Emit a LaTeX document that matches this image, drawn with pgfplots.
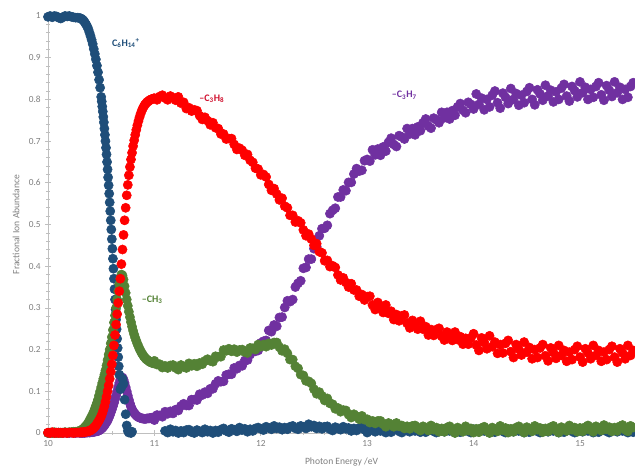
\documentclass[border=0pt]{standalone}
\usepackage{fontspec}
\setmainfont{Carlito}
\usepackage{pgfplots}
\usepackage{pgfplotstable}
\pgfplotsset{compat=1.18}
\definecolor{cblue}{HTML}{1F4E79}
\definecolor{cred}{HTML}{FF0000}
\definecolor{cgreen}{HTML}{548235}
\definecolor{cpurple}{HTML}{7030A0}
\definecolor{axgray}{HTML}{BFBFBF}
\definecolor{txtgray}{HTML}{7F7F7F}
\definecolor{lred}{HTML}{D0102E}
\pgfplotstableread{
x b g r p
10.00 0.998 0.000 0.001 0.000
10.02 1.000 0.001 0.000 0.000
10.04 0.997 0.000 0.002 0.001
10.06 1.000 0.002 0.000 0.000
10.08 0.999 0.000 0.001 0.000
10.10 0.996 0.001 0.000 0.001
10.12 0.994 0.000 0.001 0.000
10.14 0.997 0.001 0.000 0.000
10.16 1.000 0.002 0.001 0.001
10.18 0.999 0.001 0.000 0.000
10.20 1.000 0.002 0.001 0.000
10.22 0.998 0.002 0.001 0.001
10.24 0.997 0.003 0.000 0.000
10.26 0.996 0.003 0.001 0.000
10.28 0.996 0.004 0.001 0.001
10.30 0.995 0.005 0.001 0.000
10.31 0.994 0.006 0.002 0.001
10.32 0.992 0.008 0.001 0.000
10.33 0.990 0.010 0.002 0.001
10.34 0.987 0.012 0.002 0.000
10.35 0.983 0.015 0.003 0.001
10.36 0.979 0.018 0.003 0.001
10.37 0.974 0.021 0.004 0.001
10.38 0.968 0.025 0.004 0.002
10.39 0.960 0.030 0.005 0.001
10.40 0.952 0.035 0.006 0.002
10.41 0.943 0.040 0.008 0.002
10.42 0.933 0.045 0.010 0.002
10.43 0.921 0.051 0.012 0.003
10.44 0.909 0.058 0.015 0.003
10.45 0.896 0.065 0.018 0.004
10.46 0.881 0.072 0.022 0.004
10.47 0.865 0.080 0.026 0.005
10.48 0.847 0.090 0.030 0.006
10.49 0.828 0.100 0.035 0.008
10.50 0.806 0.110 0.040 0.010
10.51 0.783 0.120 0.047 0.012
10.52 0.758 0.130 0.055 0.015
10.53 0.730 0.140 0.064 0.018
10.54 0.700 0.150 0.075 0.022
10.55 0.668 0.162 0.087 0.026
10.56 0.632 0.175 0.100 0.030
10.57 0.594 0.188 0.114 0.036
10.58 0.553 0.200 0.130 0.042
10.59 0.510 0.215 0.147 0.049
10.60 0.465 0.230 0.165 0.056
10.61 0.418 0.247 0.186 0.064
10.62 0.370 0.265 0.210 0.072
10.63 0.320 0.282 0.235 0.081
10.64 0.272 0.300 0.260 0.090
10.65 0.226 0.320 0.285 0.100
10.66 0.182 0.340 0.312 0.110
10.67 0.140 0.357 0.340 0.120
10.68 0.105 0.370 0.370 0.128
10.69 0.110 0.380 0.405 0.132
10.70 0.130 0.378 0.440 0.133
10.71 0.118 0.368 0.475 0.128
10.72 0.080 0.352 0.510 0.120
10.73 0.045 0.336 0.540 0.110
10.74 0.018 0.320 0.570 0.100
10.75 0.005 0.305 0.595 0.090
10.76 0.001 0.291 0.618 0.080
10.77 0.004 0.278 0.638 0.071
10.78 0.000 0.266 0.656 0.063
10.79 0.003 0.255 0.672 0.057
10.80 nan 0.245 0.688 0.052
10.81 nan 0.236 0.702 0.048
10.82 nan 0.228 0.715 0.045
10.83 nan 0.221 0.727 0.042
10.84 nan 0.214 0.738 0.040
10.85 nan 0.208 0.748 0.038
10.86 nan 0.202 0.757 0.037
10.87 nan 0.197 0.765 0.036
10.88 nan 0.192 0.772 0.035
10.89 nan 0.188 0.778 0.035
10.90 nan 0.184 0.783 0.034
10.91 nan 0.181 0.787 0.034
10.92 nan 0.178 0.790 0.034
10.93 nan 0.176 0.793 0.035
10.94 nan 0.174 0.795 0.035
10.95 nan 0.172 0.797 0.035
10.96 nan 0.170 0.799 0.036
10.97 nan 0.169 0.800 0.036
10.98 nan 0.168 0.801 0.037
10.99 nan 0.167 0.802 0.037
10.505 0.795 nan nan nan
10.515 0.771 nan nan nan
10.525 0.745 nan nan nan
10.535 0.715 nan nan nan
10.545 0.684 nan nan nan
10.555 0.650 nan nan nan
10.565 0.613 nan nan nan
10.575 0.574 nan nan nan
10.585 0.532 nan nan nan
10.595 0.488 nan nan nan
10.605 0.442 nan nan nan
10.615 0.394 nan nan nan
10.625 0.345 nan nan nan
10.635 0.296 nan nan nan
10.645 0.249 nan nan nan
10.655 0.204 nan nan nan
10.665 0.160 nan nan nan
11.000 nan 0.173 0.803 0.031
11.025 nan 0.164 0.799 0.043
11.050 nan 0.165 0.807 0.042
11.075 nan 0.157 0.810 0.039
11.100 0.005 0.161 0.803 0.051
11.125 0.001 0.156 0.799 0.046
11.150 0.009 0.162 0.808 0.052
11.175 0.003 0.163 0.804 0.047
11.200 0.006 0.156 0.798 0.056
11.225 0.000 0.152 0.806 0.054
11.250 0.005 0.163 0.791 0.065
11.275 0.001 0.159 0.793 0.070
11.300 0.007 0.156 0.778 0.066
11.325 0.008 0.167 0.780 0.066
11.350 0.002 0.161 0.772 0.080
11.375 0.000 0.166 0.775 0.080
11.400 0.007 0.160 0.773 0.079
11.425 0.004 0.168 0.761 0.093
11.450 0.001 0.165 0.752 0.091
11.475 0.009 0.173 0.757 0.098
11.500 0.003 0.177 0.749 0.095
11.525 0.006 0.173 0.739 0.106
11.550 0.000 0.171 0.744 0.106
11.575 0.006 0.184 0.732 0.118
11.600 0.002 0.183 0.730 0.125
11.625 0.008 0.183 0.717 0.123
11.650 0.011 0.199 0.717 0.124
11.675 0.005 0.197 0.705 0.139
11.700 0.002 0.202 0.706 0.141
11.725 0.010 0.196 0.706 0.141
11.750 0.008 0.201 0.692 0.156
11.775 0.004 0.194 0.680 0.154
11.800 0.013 0.199 0.683 0.162
11.825 0.007 0.200 0.678 0.161
11.850 0.010 0.194 0.666 0.174
11.875 0.003 0.192 0.668 0.175
11.900 0.009 0.204 0.654 0.188
11.925 0.005 0.203 0.649 0.196
11.950 0.011 0.200 0.635 0.196
11.975 0.013 0.212 0.633 0.198
12.000 0.010 0.207 0.619 0.216
12.025 0.007 0.212 0.620 0.220
12.050 0.015 0.207 0.614 0.222
12.075 0.012 0.215 0.596 0.246
12.100 0.009 0.211 0.582 0.243
12.125 0.017 0.217 0.586 0.259
12.150 0.011 0.217 0.573 0.256
12.175 0.014 0.206 0.559 0.277
12.200 0.008 0.197 0.563 0.278
12.225 0.013 0.201 0.544 0.301
12.250 0.009 0.191 0.540 0.317
12.275 0.015 0.176 0.522 0.315
12.300 0.017 0.176 0.522 0.320
12.325 0.011 0.160 0.506 0.350
12.350 0.009 0.155 0.509 0.359
12.375 0.017 0.140 0.504 0.365
12.400 0.015 0.138 0.487 0.395
12.425 0.011 0.125 0.473 0.397
12.450 0.021 0.124 0.477 0.417
12.475 0.015 0.119 0.465 0.417
12.500 0.018 0.105 0.450 0.442
12.525 0.011 0.094 0.454 0.447
12.550 0.016 0.098 0.435 0.473
12.575 0.010 0.089 0.432 0.490
12.600 0.015 0.078 0.413 0.491
12.625 0.016 0.083 0.414 0.498
12.650 0.009 0.071 0.399 0.526
12.675 0.006 0.069 0.401 0.534
12.700 0.014 0.058 0.397 0.539
12.725 0.011 0.060 0.379 0.566
12.750 0.008 0.051 0.367 0.566
12.775 0.015 0.055 0.372 0.583
12.800 0.010 0.054 0.361 0.581
12.825 0.012 0.044 0.350 0.601
12.850 0.005 0.037 0.358 0.601
12.875 0.011 0.045 0.343 0.621
12.900 0.006 0.040 0.343 0.634
12.925 0.012 0.033 0.328 0.628
12.950 0.014 0.041 0.332 0.630
12.975 0.008 0.032 0.319 0.653
13.000 0.001 0.033 0.327 0.656
13.025 0.009 0.025 0.328 0.652
13.050 0.007 0.029 0.307 0.679
13.075 0.003 0.023 0.296 0.667
13.100 0.011 0.029 0.313 0.681
13.125 0.005 0.029 0.302 0.666
13.150 0.008 0.021 0.289 0.686
13.175 0.001 0.015 0.307 0.676
13.200 0.007 0.024 0.287 0.697
13.225 0.002 0.020 0.292 0.707
13.250 0.008 0.015 0.272 0.692
13.275 0.010 0.024 0.284 0.687
13.300 0.004 0.016 0.269 0.713
13.325 0.001 0.018 0.281 0.710
13.350 0.009 0.011 0.283 0.705
13.375 0.006 0.016 0.263 0.730
13.400 0.003 0.010 0.252 0.717
13.425 0.011 0.017 0.270 0.730
13.450 0.005 0.018 0.261 0.715
13.475 0.008 0.010 0.249 0.734
13.500 0.002 0.006 0.268 0.725
13.525 0.007 0.016 0.249 0.744
13.550 0.002 0.012 0.255 0.753
13.575 0.008 0.006 0.235 0.736
13.600 0.010 0.018 0.248 0.731
13.625 0.004 0.008 0.234 0.755
13.650 0.001 0.013 0.248 0.751
13.675 0.009 0.003 0.251 0.744
13.700 0.006 0.011 0.232 0.769
13.725 0.003 0.003 0.223 0.756
13.750 0.011 0.013 0.242 0.769
13.775 0.005 0.016 0.233 0.753
13.800 0.008 0.005 0.222 0.773
13.825 0.001 0.000 0.242 0.762
13.850 0.007 0.013 0.224 0.782
13.875 0.002 0.009 0.231 0.790
13.900 0.008 0.003 0.213 0.774
13.925 0.010 0.016 0.227 0.768
13.950 0.004 0.006 0.213 0.793
13.975 0.001 0.011 0.228 0.788
14.000 0.009 0.001 0.238 0.777
14.025 0.007 0.010 0.211 0.813
14.050 0.003 0.002 0.198 0.788
14.075 0.011 0.012 0.228 0.803
14.100 0.005 0.015 0.217 0.775
14.125 0.008 0.005 0.202 0.800
14.150 0.001 0.000 0.233 0.782
14.175 0.007 0.013 0.207 0.810
14.200 0.002 0.009 0.218 0.820
14.225 0.008 0.004 0.191 0.792
14.250 0.010 0.017 0.212 0.779
14.275 0.004 0.007 0.192 0.815
14.300 0.001 0.012 0.215 0.805
14.325 0.009 0.001 0.222 0.790
14.350 0.007 0.010 0.195 0.826
14.375 0.003 0.003 0.181 0.800
14.400 0.011 0.013 0.212 0.814
14.425 0.005 0.016 0.201 0.786
14.450 0.008 0.006 0.187 0.810
14.475 0.001 0.001 0.218 0.792
14.500 0.007 0.014 0.194 0.819
14.525 0.002 0.010 0.205 0.828
14.550 0.008 0.004 0.178 0.800
14.575 0.010 0.017 0.200 0.787
14.600 0.004 0.008 0.181 0.823
14.625 0.001 0.012 0.204 0.813
14.650 0.009 0.002 0.212 0.798
14.675 0.007 0.011 0.185 0.834
14.700 0.003 0.004 0.173 0.808
14.725 0.011 0.014 0.204 0.822
14.750 0.005 0.017 0.193 0.794
14.775 0.008 0.006 0.179 0.818
14.800 0.001 0.001 0.210 0.800
14.825 0.007 0.014 0.186 0.827
14.850 0.002 0.010 0.198 0.836
14.875 0.008 0.005 0.172 0.808
14.900 0.010 0.018 0.194 0.796
14.925 0.004 0.008 0.176 0.831
14.950 0.001 0.013 0.200 0.821
14.975 0.009 0.003 0.208 0.806
15.000 0.007 0.012 0.182 0.842
15.025 0.003 0.004 0.170 0.816
15.050 0.011 0.014 0.202 0.829
15.075 0.005 0.018 0.192 0.800
15.100 0.008 0.007 0.178 0.824
15.125 0.001 0.003 0.210 0.805
15.150 0.007 0.016 0.186 0.831
15.175 0.002 0.012 0.198 0.840
15.200 0.008 0.006 0.172 0.811
15.225 0.010 0.019 0.194 0.798
15.250 0.004 0.009 0.176 0.833
15.275 0.001 0.014 0.200 0.822
15.300 0.009 0.004 0.208 0.807
15.325 0.007 0.013 0.182 0.842
15.350 0.003 0.005 0.170 0.816
15.375 0.011 0.016 0.202 0.829
15.400 0.005 0.019 0.192 0.800
15.425 0.008 0.008 0.178 0.824
15.450 0.001 0.004 0.210 0.805
15.475 0.007 0.017 0.186 0.831
15.500 0.002 0.013 0.198 0.840
}\data

\begin{document}
\begin{tikzpicture}
\useasboundingbox (-36pt,-24.75pt) rectangle (440.25pt,324.75pt);
\begin{axis}[
  at={(0,0)}, anchor=south west,
  scale only axis, width=440.25pt, height=312.75pt,
  xmin=10, xmax=15.517, ymin=0, ymax=1,
  axis lines=left, axis line style={draw=axgray, -},
  clip=false,
  xtick={10,11,12,13,14,15},
  ytick={0,0.1,0.2,0.3,0.4,0.5,0.6,0.7,0.8,0.9,1},
  minor x tick num=4, minor y tick num=4,
  tick align=center, major tick length=4pt, minor tick length=2.5pt,
  tick style={draw=axgray, line width=0.5pt},
  ticklabel style={font=\fontsize{7}{8}\selectfont, text=txtgray},
  /pgf/number format/assume math mode=true,
  xlabel={Photon Energy /eV}, ylabel={Fractional Ion Abundance},
  label style={font=\fontsize{7.2}{8}\selectfont, text=txtgray},
  xlabel style={at={(axis description cs:0.5,-0.0695)}, anchor=center},
  ylabel style={at={(axis description cs:-0.0545,0.5)}, anchor=center},
  mark size=3.45pt,
]
\addplot[only marks, mark=*, color=cpurple, mark options={draw=cpurple, fill=cpurple}] table[x=x, y=p] {\data};
\addplot[only marks, mark=*, color=cblue, mark options={draw=cblue, fill=cblue}] table[x=x, y=b] {\data};
\addplot[only marks, mark=*, color=cgreen, mark options={draw=cgreen, fill=cgreen}] table[x=x, y=g] {\data};
\addplot[only marks, mark=*, color=cred, mark options={draw=cred, fill=cred}] table[x=x, y=r] {\data};
\node[anchor=west, inner sep=0pt, font=\fontsize{7.5}{9}\selectfont\bfseries, text=cblue] at (axis cs:10.60,0.935) {C\textsubscript{6}H\textsubscript{14}\textsuperscript{+}};
\node[anchor=west, inner sep=0pt, font=\fontsize{7.5}{9}\selectfont\bfseries, text=lred] at (axis cs:11.42,0.802) {–C\textsubscript{3}H\textsubscript{8}};
\node[anchor=west, inner sep=0pt, font=\fontsize{7.5}{9}\selectfont\bfseries, text=cpurple] at (axis cs:13.23,0.81) {–C\textsubscript{3}H\textsubscript{7}};
\node[anchor=west, inner sep=0pt, font=\fontsize{7.5}{9}\selectfont\bfseries, text=cgreen] at (axis cs:10.88,0.319) {–CH\textsubscript{3}};
\end{axis}
\end{tikzpicture}
\end{document}
